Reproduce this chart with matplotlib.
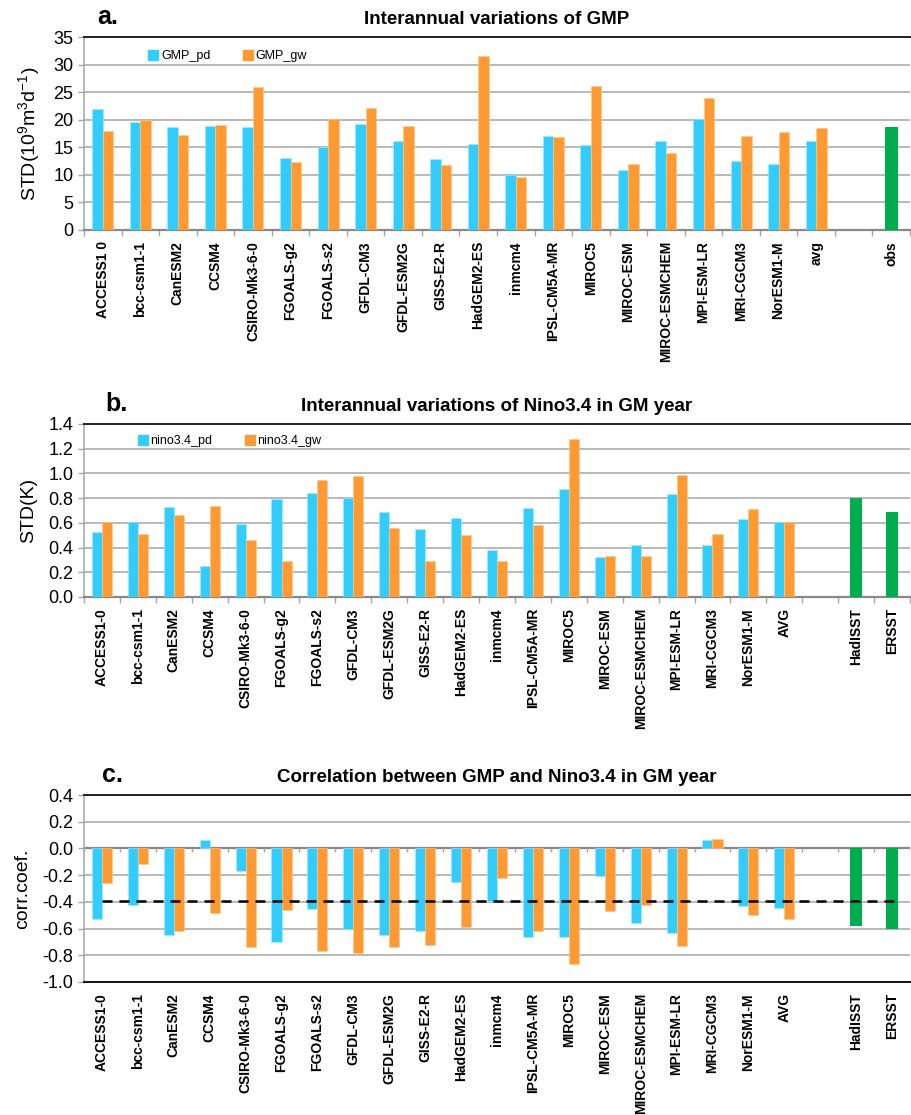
import numpy as np
import matplotlib
matplotlib.use("Agg")
import matplotlib.pyplot as plt
from matplotlib.patches import Patch

plt.rcParams['font.family'] = ['Liberation Sans', 'DejaVu Sans']
plt.rcParams['mathtext.fontset'] = 'custom'
plt.rcParams['mathtext.rm'] = 'Liberation Sans'
plt.rcParams['mathtext.it'] = 'Liberation Sans'

# ---- data ----
models = ["ACCESS1-0", "bcc-csm1-1", "CanESM2", "CCSM4", "CSIRO-Mk3-6-0", "FGOALS-g2",
          "FGOALS-s2", "GFDL-CM3", "GFDL-ESM2G", "GISS-E2-R", "HadGEM2-ES", "inmcm4",
          "IPSL-CM5A-MR", "MIROC5", "MIROC-ESM", "MIROC-ESMCHEM", "MPI-ESM-LR",
          "MRI-CGCM3", "NorESM1-M"]

labels_a = ["ACCESS1 0"] + models[1:] + ["avg"]
obs_a = ["obs"]
gmp_pd = [22.0, 19.5, 18.7, 18.9, 18.7, 13.1, 15.0, 19.3, 16.2, 12.9,
          15.6, 9.9, 17.1, 15.4, 10.8, 16.2, 20.1, 12.5, 11.9, 16.2]
gmp_gw = [17.9, 20.0, 17.2, 19.1, 25.9, 12.3, 20.1, 22.1, 18.9, 11.7,
          31.6, 9.6, 16.9, 26.2, 11.9, 14.0, 23.9, 17.1, 17.7, 18.5]
gmp_obs = [18.7]

labels_bc = models + ["AVG"]
obs_bc = ["HadISST", "ERSST"]
nino_pd = [0.53, 0.61, 0.73, 0.25, 0.59, 0.79, 0.84, 0.80, 0.69, 0.55,
           0.64, 0.38, 0.72, 0.87, 0.32, 0.42, 0.83, 0.42, 0.63, 0.61]
nino_gw = [0.61, 0.51, 0.66, 0.74, 0.46, 0.29, 0.95, 0.98, 0.56, 0.29,
           0.50, 0.29, 0.58, 1.28, 0.33, 0.33, 0.99, 0.51, 0.71, 0.61]
nino_obs = [0.80, 0.69]

corr_pd = [-0.53, -0.42, -0.65, 0.06, -0.17, -0.70, -0.45, -0.60, -0.65, -0.62,
           -0.25, -0.39, -0.665, -0.665, -0.21, -0.56, -0.635, 0.06, -0.43, -0.445]
corr_gw = [-0.26, -0.12, -0.62, -0.48, -0.735, -0.46, -0.77, -0.78, -0.735, -0.72,
           -0.59, -0.22, -0.62, -0.865, -0.47, -0.42, -0.73, 0.07, -0.50, -0.53]
corr_obs = [-0.58, -0.60]
sig_level = -0.39

BLUE = '#33ccff'
ORANGE = '#ff9a33'
GREEN = '#00ad4e'
GRID = '#a6a6a6'

W = 0.28    # width of the model bars
WG = 0.35   # width of the obs bars


def draw_panel(ax, pd_vals, gw_vals, obs_vals, mlabels, olabels):
    n = len(pd_vals)
    x = np.arange(n)
    xo = np.arange(n + 1, n + 1 + len(obs_vals))  # one empty slot before obs
    ax.bar(x - W / 2, pd_vals, W, color=BLUE, edgecolor='#a8eaff', linewidth=0.4, zorder=3)
    ax.bar(x + W / 2, gw_vals, W, color=ORANGE, edgecolor='#ffc890', linewidth=0.4, zorder=3)
    ax.bar(xo, obs_vals, WG, color=GREEN, zorder=3)
    nslots = n + 1 + len(obs_vals)
    ax.set_xlim(-0.5, nslots - 0.5)
    ax.set_xticks(list(x) + list(xo))
    ax.set_xticklabels(mlabels + olabels, rotation=90, fontweight='bold', fontsize=10)
    ax.set_xticks(np.arange(nslots + 1) - 0.5, minor=True)
    ax.tick_params(axis='x', which='major', length=0, pad=8)
    ax.tick_params(axis='x', which='minor', length=4, color=GRID, width=1)
    ax.tick_params(axis='y', labelsize=13, length=4, color=GRID, width=1)
    ax.yaxis.grid(True, color=GRID, linewidth=1.1, zorder=0)
    ax.set_axisbelow(True)
    ax.spines['right'].set_visible(False)
    ax.spines['top'].set_color('#222222')
    ax.spines['top'].set_linewidth(1.4)
    ax.spines['left'].set_color(GRID)
    ax.spines['left'].set_linewidth(1.1)
    ax.spines['bottom'].set_color('#888888')
    ax.spines['bottom'].set_linewidth(1.6)
    return xo


def set_yaxis(ax, lo, hi, step, fmt):
    yt = np.round(np.arange(lo, hi + step / 2, step), 2)
    ax.set_ylim(lo, hi)
    ax.set_yticks(yt)
    ax.set_yticklabels([fmt % (v + 0.0) for v in yt])


def add_titles(ax, letter, title, lx):
    ax.set_title(title, fontsize=13.5, fontweight='bold', pad=9)
    ax.annotate(letter, xy=(lx, 1), xycoords='axes fraction', xytext=(0, 9),
                textcoords='offset points', fontsize=18, fontweight='bold',
                ha='left', va='baseline')


def add_legend(ax, names, x, y):
    handles = [Patch(color=BLUE), Patch(color=ORANGE)]
    ax.legend(handles, names, loc='center left', bbox_to_anchor=(x, y), ncol=2,
              frameon=False, fontsize=9, handlelength=0.8, handleheight=0.8,
              handletextpad=0.2, columnspacing=2.6, borderaxespad=0, borderpad=0)


fig = plt.figure(figsize=(9.11, 11.15), dpi=100)
left, width = 84 / 911, 826 / 911

# panel a
ax1 = fig.add_axes([left, 1 - 230 / 1115, width, 193 / 1115])
draw_panel(ax1, gmp_pd, gmp_gw, gmp_obs, labels_a, obs_a)
set_yaxis(ax1, 0, 35, 5, '%d')
ax1.set_ylabel('STD(10$^{9}$m$^{3}$d$^{-1}$)', fontsize=14, labelpad=8)
add_titles(ax1, 'a.', 'Interannual variations of GMP', 0.016)
add_legend(ax1, ['GMP_pd', 'GMP_gw'], 0.078, 0.9)

# panel b
ax2 = fig.add_axes([left, 1 - 597 / 1115, width, 173 / 1115])
draw_panel(ax2, nino_pd, nino_gw, nino_obs, labels_bc, obs_bc)
set_yaxis(ax2, 0, 1.4, 0.2, '%.1f')
ax2.set_ylabel('STD(K)', fontsize=14, labelpad=8)
add_titles(ax2, 'b.', 'Interannual variations of Nino3.4 in GM year', 0.026)
add_legend(ax2, ['nino3.4_pd', 'nino3.4_gw'], 0.065, 0.9)

# panel c
ax3 = fig.add_axes([left, 1 - 982 / 1115, width, 187 / 1115])
xo = draw_panel(ax3, corr_pd, corr_gw, corr_obs, labels_bc, obs_bc)
set_yaxis(ax3, -1.0, 0.4, 0.2, '%.1f')
ax3.set_ylabel('corr.coef.', fontsize=14, labelpad=8)
ax3.spines['bottom'].set_color('#111111')
ax3.spines['bottom'].set_linewidth(1.4)
ax3.tick_params(axis='x', which='minor', length=0)
# zero line with category tick marks
ax3.axhline(0, color='#888888', linewidth=1.6, zorder=2)
ax3.vlines(np.arange(len(labels_bc) + 1 + len(obs_bc) + 1) - 0.5, -0.025, 0,
           color=GRID, linewidth=1, zorder=2)
ax3.hlines(sig_level, 0, xo[-1] + WG / 2, colors='black', linewidth=1.8,
           linestyles=(0, (4, 2.8)), zorder=4)
add_titles(ax3, 'c.', 'Correlation between GMP and Nino3.4 in GM year', 0.022)

fig.savefig('out.png', dpi=100)
